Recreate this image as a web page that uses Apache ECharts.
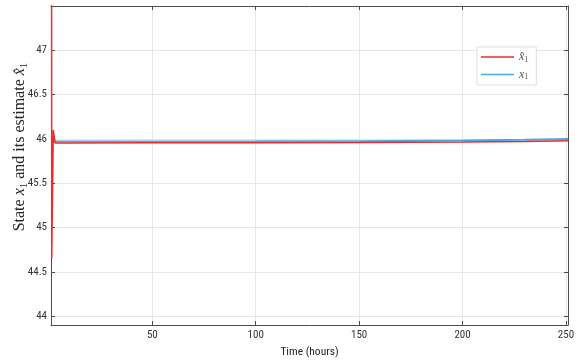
<!DOCTYPE html>
<html>
<head>
<meta charset="utf-8">
<script src="https://cdn.jsdelivr.net/npm/echarts@6/dist/echarts.min.js"></script>
<style>html,body{margin:0;padding:0;background:#fff}#c{width:580px;height:363px}</style>
</head>
<body>
<div id="c"></div>
<script>
// Data
var estTime = [1, 1.35, 2.1, 3, 10, 50, 100, 150, 200, 230, 251];
var estValues = [60, 44.65, 46.1, 45.955, 45.955, 45.956, 45.957, 45.96, 45.965, 45.972, 45.98];
var stateTime = [1, 50, 100, 150, 200, 230, 251];
var stateValues = [45.972, 45.972, 45.973, 45.975, 45.982, 45.99, 46.0];
var xTicks = [50, 100, 150, 200, 250];
var yTicks = [44, 44.5, 45, 45.5, 46, 46.5, 47];

function pairs(t, v) { return t.map(function (x, i) { return [x, v[i]]; }); }

var chart = echarts.init(document.getElementById('c'), null, { renderer: 'canvas' });
var axisCol = '#4d4d4d';
var sans = '"Liberation Sans Narrow", "Roboto Condensed", "DejaVu Sans Condensed", "Liberation Sans", sans-serif';
var labelStyle = { color: '#333', fontFamily: sans, fontSize: 11 };
var serif = 'Liberation Serif, DejaVu Serif, serif';
chart.setOption({
  animation: false,
  backgroundColor: '#fff',
  grid: { left: 51, right: 12, top: 6, bottom: 38 },
  xAxis: [{
    type: 'value', min: 1, max: 251,
    name: 'Time (hours)', nameLocation: 'middle', nameGap: 20,
    nameTextStyle: { color: '#262626', fontFamily: sans, fontSize: 11.5 },
    axisLine: { show: true, onZero: false, lineStyle: { color: axisCol } },
    axisTick: { show: true, inside: true, length: 4, customValues: xTicks, lineStyle: { color: axisCol } },
    axisLabel: Object.assign({ customValues: xTicks, margin: 5 }, labelStyle),
    splitLine: { show: true, lineStyle: { color: '#e6e6e6' } }
  }, {
    type: 'value', min: 1, max: 251, position: 'top',
    axisLine: { show: true, onZero: false, lineStyle: { color: axisCol } },
    axisTick: { show: true, inside: true, length: 4, customValues: xTicks, lineStyle: { color: axisCol } },
    axisLabel: { show: false },
    splitLine: { show: false }
  }],
  yAxis: [{
    type: 'value', min: 43.9, max: 47.5,
    axisLine: { show: true, onZero: false, lineStyle: { color: axisCol } },
    axisTick: { show: true, inside: true, length: 4, customValues: yTicks, lineStyle: { color: axisCol } },
    axisLabel: Object.assign({ customValues: yTicks, margin: 4 }, labelStyle),
    splitLine: { show: true, lineStyle: { color: '#e6e6e6' } }
  }, {
    type: 'value', min: 43.9, max: 47.5, position: 'right',
    axisLine: { show: true, onZero: false, lineStyle: { color: axisCol } },
    axisTick: { show: true, inside: true, length: 4, customValues: yTicks, lineStyle: { color: axisCol } },
    axisLabel: { show: false },
    splitLine: { show: false }
  }],
  legend: {
    orient: 'vertical', left: 477, top: 47,
    backgroundColor: '#fff', borderColor: '#dddddd', borderWidth: 1,
    padding: [4, 8, 4, 4], itemGap: 5,
    icon: 'rect', itemWidth: 33, itemHeight: 1.5,
    data: ['xhat', 'x'],
    formatter: function (n) { return n === 'xhat' ? '{v|x\u0302}{s|1}' : '{v|x}{s|1}'; },
    textStyle: {
      rich: {
        v: { fontFamily: serif, fontStyle: 'italic', fontSize: 12, color: '#555' },
        s: { fontFamily: serif, fontSize: 8, color: '#555', padding: [5, 0, 0, 0] }
      }
    }
  },
  graphic: [{
    type: 'text', x: 20, y: 147, rotation: Math.PI / 2,
    style: {
      text: '{n|State }{v|x}{s|1}{n| and its estimate }{v|x\u0302}{s|1}',
      align: 'center', verticalAlign: 'middle',
      rich: {
        n: { fontFamily: serif, fontSize: 16, fill: '#262626' },
        v: { fontFamily: serif, fontStyle: 'italic', fontSize: 16, fill: '#262626' },
        s: { fontFamily: serif, fontSize: 11, fill: '#262626', padding: [8, 0, 0, 0] }
      }
    }
  }],
  series: [{
    name: 'x', type: 'line', data: pairs(stateTime, stateValues),
    showSymbol: false, symbol: 'none', smooth: false,
    lineStyle: { color: '#4aa9e9', width: 2 }, itemStyle: { color: '#4aa9e9' }, z: 2
  }, {
    name: 'xhat', type: 'line', data: pairs(estTime, estValues),
    showSymbol: false, symbol: 'none', smooth: false,
    lineStyle: { color: '#ee2a2a', width: 1.5 }, itemStyle: { color: '#ee2a2a' }, z: 3
  }]
});
</script>
</body>
</html>
